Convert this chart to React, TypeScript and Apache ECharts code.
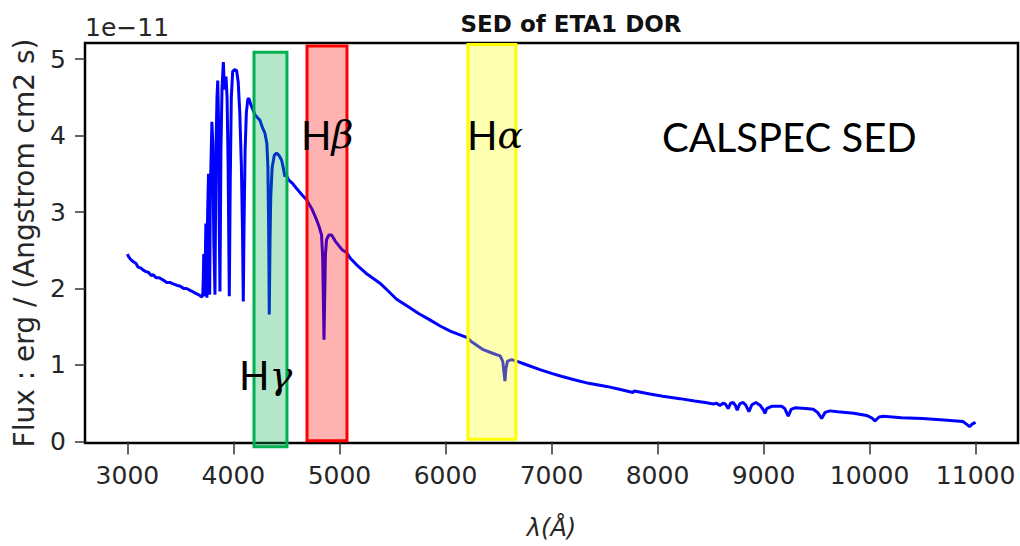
import React, { useEffect, useRef } from "react";
import * as echarts from "echarts";

// Wavelength (Angstrom) and flux (units of 1e-11 erg / (Angstrom cm2 s))
const wavelength = [
  3000, 3010, 3030, 3056, 3080, 3100, 3125, 3150, 3175, 3200, 3225, 3244, 3270, 3300, 3338, 3370, 3400, 3432, 3470, 3500,
  3530, 3558, 3600, 3640, 3670, 3690, 3705, 3712, 3716, 3720, 3724, 3728, 3734, 3740, 3745, 3750, 3754, 3760, 3765, 3770,
  3776, 3782, 3790, 3797, 3805, 3815, 3826, 3835, 3845, 3852, 3858, 3865, 3873, 3882, 3892, 3905, 3912, 3920, 3930, 3940,
  3950, 3961, 3970, 3980, 3993, 4010, 4030, 4045, 4060, 4075, 4085, 4093, 4100, 4110, 4122, 4135, 4145, 4160, 4180, 4203,
  4230, 4250, 4275, 4297, 4315, 4325, 4332, 4338, 4345, 4352, 4365, 4385, 4407, 4430, 4454, 4470, 4486, 4495, 4520, 4560,
  4600, 4650, 4690, 4740, 4784, 4810, 4831, 4842, 4850, 4854, 4860, 4868, 4878, 4900, 4926, 4960, 5000, 5030, 5068, 5100,
  5162, 5250, 5382, 5450, 5539, 5650, 5750, 5853, 5950, 6050, 6199, 6250, 6356, 6450, 6514, 6540, 6552, 6561, 6570, 6585,
  6624, 6670, 6750, 6891, 7000, 7100, 7205, 7350, 7520, 7650, 7768, 7780, 7928, 8050, 8211, 8350, 8450, 8525, 8557, 8588,
  8619, 8640, 8666, 8690, 8713, 8735, 8751, 8775, 8808, 8835, 8862, 8890, 8928, 8970, 9000, 9013, 9030, 9076, 9170, 9200,
  9233, 9260, 9296, 9400, 9469, 9510, 9548, 9580, 9626, 9700, 9850, 9972, 10020, 10051, 10090, 10130, 10300, 10500, 10700, 10880,
  10920, 10943, 10970, 11000,
];
const flux = [
  2.45, 2.42, 2.38, 2.35, 2.33, 2.28, 2.27, 2.24, 2.22, 2.21, 2.17, 2.18, 2.14, 2.14, 2.11, 2.08, 2.08, 2.06, 2.04, 2.03,
  2.0, 2.0, 1.97, 1.94, 1.92, 1.9, 1.89, 1.95, 2.15, 2.45, 2.0, 1.9, 2.3, 2.85, 2.2, 1.88, 2.8, 3.2, 3.5, 2.5,
  1.92, 3.3, 3.75, 4.18, 3.9, 2.6, 1.92, 3.8, 4.5, 4.72, 4.3, 3.0, 1.96, 3.8, 4.6, 4.96, 4.7, 4.6, 4.77, 4.5,
  3.6, 1.9, 3.4, 4.5, 4.84, 4.86, 4.85, 4.7, 4.3, 3.6, 2.8, 1.83, 2.8, 3.8, 4.3, 4.47, 4.49, 4.42, 4.35, 4.27,
  4.23, 4.2, 4.1, 4.03, 3.9, 3.6, 2.8, 1.66, 2.6, 3.2, 3.58, 3.74, 3.77, 3.74, 3.68, 3.58, 3.46, 3.5, 3.42, 3.37,
  3.3, 3.22, 3.16, 3.04, 2.9, 2.8, 2.7, 2.4, 1.7, 1.33, 1.8, 2.45, 2.64, 2.7, 2.7, 2.62, 2.55, 2.5, 2.47, 2.4,
  2.31, 2.2, 2.07, 1.98, 1.86, 1.76, 1.67, 1.59, 1.51, 1.44, 1.36, 1.3, 1.2, 1.15, 1.12, 1.05, 0.9, 0.79, 0.95, 1.05,
  1.07, 1.05, 1.01, 0.94, 0.89, 0.85, 0.81, 0.76, 0.72, 0.68, 0.64, 0.66, 0.62, 0.59, 0.56, 0.53, 0.51, 0.49, 0.5, 0.47,
  0.5, 0.49, 0.43, 0.5, 0.51, 0.47, 0.41, 0.49, 0.51, 0.47, 0.39, 0.48, 0.51, 0.47, 0.41, 0.365, 0.43, 0.46, 0.46, 0.43,
  0.33, 0.42, 0.44, 0.43, 0.42, 0.38, 0.3, 0.38, 0.4, 0.39, 0.37, 0.34, 0.31, 0.27, 0.32, 0.33, 0.31, 0.3, 0.28, 0.26,
  0.22, 0.195, 0.23, 0.25,
];

const xTicks = [3000, 4000, 5000, 6000, 7000, 8000, 9000, 10000, 11000];
const yTicks = [0, 1, 2, 3, 4, 5];

// Highlight bands: [x0, x1, y0, y1]
const bandNames = ["Hγ", "Hβ", "Hα"];
const bandRanges = [
  [4194, 4505, -0.07, 5.09],
  [4694, 5071, 0.01, 5.17],
  [6212, 6664, 0.03, 5.19],
];
const bandStroke = ["#00b050", "#ff0000", "#ffff00"];
const bandFill = ["rgba(0,176,80,0.3)", "rgba(255,0,0,0.3)", "rgba(255,255,0,0.3)"];

const App: React.FC = () => {
  const ref = useRef<HTMLDivElement>(null);

  useEffect(() => {
    if (!ref.current) return;
    const chart = echarts.init(ref.current, null, { renderer: "svg" });
    const tickFont = "DejaVu Sans";
    const labelFont = "Lato";
    const greek = "DejaVu Serif";

    const hLabel = (letter: string, left: number, top: number) => ({
      type: "text",
      left,
      top,
      z: 20,
      style: {
        text: `{h|H}{g|${letter}}`,
        fontFamily: labelFont,
        fontSize: 40,
        fill: "#000",
        rich: {
          h: { fontFamily: labelFont, fontSize: 40, fill: "#000" },
          g: { fontFamily: greek, fontStyle: "italic", fontSize: 38, fill: "#000" },
        },
      },
    });

    chart.setOption({
      animation: false,
      backgroundColor: "#fff",
      title: {
        text: "SED of ETA1 DOR",
        left: 566,
        textAlign: "center",
        top: 7,
        textStyle: { fontFamily: tickFont, fontWeight: "bold", fontSize: 23, color: "#111" },
      },
      grid: {
        left: 85,
        right: 2,
        top: 43,
        bottom: 103,
        show: true,
        borderColor: "#000",
        borderWidth: 2.5,
        backgroundColor: "transparent",
        containLabel: false,
        outerBoundsMode: "none",
      },
      xAxis: {
        type: "value",
        min: 2600,
        max: 11400,
        name: "λ(Å)",
        nameLocation: "middle",
        nameGap: 73,
        nameTextStyle: { fontFamily: tickFont, fontStyle: "italic", fontSize: 24, color: "#262626" },
        axisLine: { show: false },
        splitLine: { show: false },
        axisTick: {
          show: true,
          length: 13,
          lineStyle: { color: "#333", width: 1.5 },
          customValues: xTicks,
        },
        axisLabel: {
          customValues: xTicks,
          formatter: (v: number) => String(v),
          margin: 20,
          fontFamily: tickFont,
          fontSize: 25,
          color: "#262626",
        },
      },
      yAxis: {
        type: "value",
        min: -0.02,
        max: 5.21,
        name: "Flux : erg / (Angstrom cm2 s)",
        nameLocation: "middle",
        nameGap: 47,
        nameTextStyle: { fontFamily: tickFont, fontSize: 28, color: "#262626" },
        axisLine: { show: false },
        splitLine: { show: false },
        axisTick: {
          show: true,
          length: 10,
          lineStyle: { color: "#333", width: 1.5 },
          customValues: yTicks,
        },
        axisLabel: {
          customValues: yTicks,
          formatter: (v: number) => String(v),
          margin: 19,
          fontFamily: tickFont,
          fontSize: 25,
          color: "#262626",
        },
      },
      graphic: [
        {
          type: "text",
          left: 85,
          top: 15,
          z: 20,
          style: { text: "1e−11", fontFamily: tickFont, fontSize: 25, fill: "#262626" },
        },
        hLabel("β", 301, 115),
        hLabel("α", 467, 115),
        hLabel("γ", 239, 355),
        {
          type: "text",
          left: 662,
          top: 117,
          z: 20,
          style: { text: "CALSPEC SED", fontFamily: labelFont, fontSize: 40, fill: "#000" },
        },
      ],
      series: [
        {
          type: "line",
          name: "SED",
          data: wavelength.map((w, i) => [w, flux[i]]),
          showSymbol: false,
          symbol: "none",
          lineStyle: { color: "#0000ff", width: 3 },
          z: 2,
        },
        {
          type: "custom",
          name: "bands",
          clip: false,
          z: 3,
          data: bandRanges.map((r, i) => ({ name: bandNames[i], value: [...r, i] })),
          encode: { x: [0, 1], y: [2, 3] },
          renderItem: (params: any, api: any) => {
            const i = api.value(4);
            const pTop = api.coord([api.value(0), api.value(3)]);
            const pBot = api.coord([api.value(1), api.value(2)]);
            return {
              type: "rect",
              shape: {
                x: pTop[0],
                y: pTop[1],
                width: pBot[0] - pTop[0],
                height: pBot[1] - pTop[1],
              },
              style: { fill: bandFill[i], stroke: bandStroke[i], lineWidth: 3 },
            };
          },
        },
      ],
    });

    return () => {
      chart.dispose();
    };
  }, []);

  return <div ref={ref} style={{ width: 1020, height: 546, position: "absolute", left: 0, top: 0 }} />;
};

export default App;
